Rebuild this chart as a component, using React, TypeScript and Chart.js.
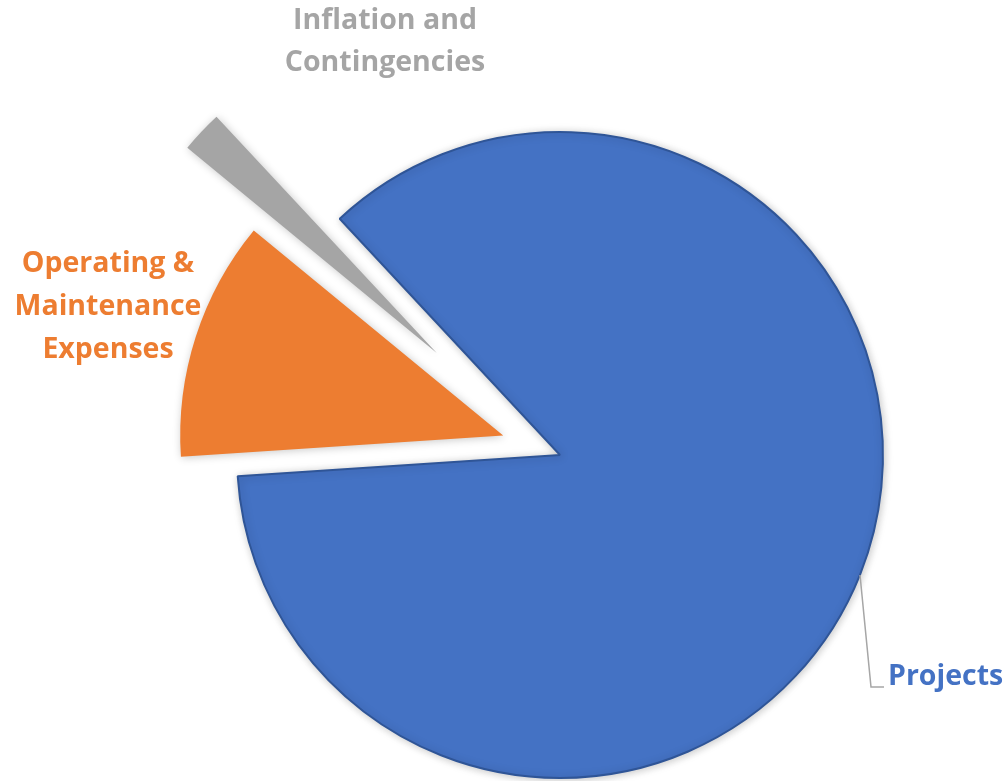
import React, { useEffect, useRef } from 'react';
import { Chart, registerables } from 'chart.js';

Chart.register(...registerables);

// ---- data ----
const categories = ['Projects', 'Operating & Maintenance Expenses', 'Inflation and Contingencies'];
const shares = [85.9, 12.0, 2.1];
const sliceColors = ['#4472C4', '#ED7D31', '#A5A5A5'];
const sliceBorders = ['#2F5597', '#ED7D31', '#A5A5A5'];
const labelLines = [['Projects'], ['Operating &', 'Maintenance', 'Expenses'], ['Inflation and', 'Contingencies']];
const explodeDistance = [0, 60, 160];
const explodeAngleNudge = [0, 1, -3.6]; // degrees

const FONT = '"Open Sans", "Liberation Sans", sans-serif';

// exploded slices: move each arc's centre outward along its mid angle
const explodePlugin = {
  id: 'explode',
  afterDatasetsUpdate(chart: any) {
    const meta = chart.getDatasetMeta(0);
    meta.data.forEach((arc: any, i: number) => {
      const d = explodeDistance[i] || 0;
      if (!d) return;
      const mid = (arc.startAngle + arc.endAngle) / 2 + ((explodeAngleNudge[i] || 0) * Math.PI) / 180;
      arc.x += Math.cos(mid) * d;
      arc.y += Math.sin(mid) * d;
    });
  },
};

const labelPlugin = {
  id: 'sliceLabels',
  beforeDatasetsDraw(chart: any) {
    const ctx = chart.ctx;
    ctx.save();
    ctx.shadowColor = 'rgba(0,0,0,0.22)';
    ctx.shadowBlur = 9;
    ctx.shadowOffsetX = 1;
    ctx.shadowOffsetY = 1;
  },
  afterDatasetsDraw(chart: any) {
    const ctx = chart.ctx;
    ctx.restore();
    ctx.save();
    // leader line for Projects
    ctx.strokeStyle = '#A6A6A6';
    ctx.lineWidth = 1.5;
    ctx.beginPath();
    ctx.moveTo(860, 575);
    ctx.lineTo(871, 687);
    ctx.lineTo(884, 687);
    ctx.stroke();

    ctx.font = `bold 28.5px ${FONT}`;
    ctx.textBaseline = 'alphabetic';
    // Projects
    ctx.fillStyle = sliceColors[0];
    ctx.textAlign = 'left';
    ctx.fillText(labelLines[0][0], 888, 685);
    // O&M
    ctx.fillStyle = sliceColors[1];
    ctx.textAlign = 'center';
    labelLines[1].forEach((t, i) => ctx.fillText(t, 108, 272 + i * 43));
    // Inflation
    ctx.fillStyle = sliceColors[2];
    labelLines[2].forEach((t, i) => ctx.fillText(t, 385, 29 + i * 42));
    ctx.restore();
  },
};

export default function App() {
  const ref = useRef<HTMLCanvasElement>(null);
  useEffect(() => {
    document.body.style.margin = '0';
    const chart = new Chart(ref.current!, {
      type: 'pie',
      data: {
        labels: categories,
        datasets: [
          {
            data: shares,
            backgroundColor: sliceColors,
            borderColor: sliceBorders,
            borderWidth: [2, 0, 0],
          },
        ],
      },
      options: {
        responsive: false,
        animation: false,
        events: [],
        rotation: -43,
        radius: 323,
        layout: { padding: { left: 113, top: 129, right: 0, bottom: 0 } },
        plugins: {
          legend: { display: false },
          tooltip: { enabled: false },
        },
      } as any,
      plugins: [explodePlugin, labelPlugin],
    });
    return () => chart.destroy();
  }, []);
  return (
    <div style={{ position: 'absolute', left: 0, top: 0, width: 1007, height: 781, background: '#fff' }}>
      <canvas ref={ref} width={1007} height={781} />
    </div>
  );
}
